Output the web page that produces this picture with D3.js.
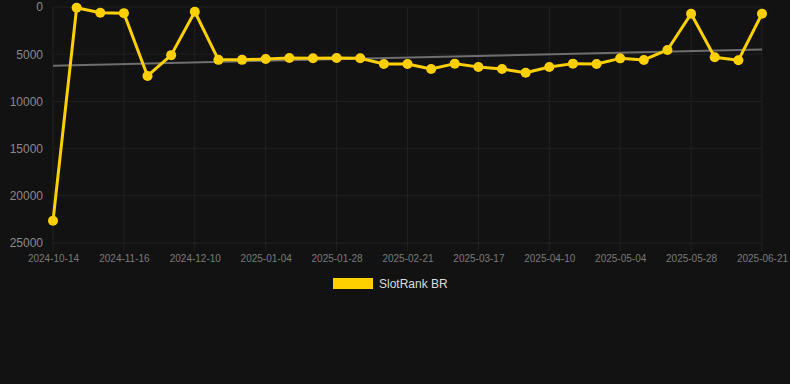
<!DOCTYPE html>
<html><head><meta charset="utf-8">
<script src="https://cdn.jsdelivr.net/npm/d3@7"></script>
<style>html,body{margin:0;padding:0;background:#121212;}svg{display:block;}</style>
</head><body>
<svg id="c" width="790" height="384"></svg>
<script>
const dates = ["2024-10-14","2024-10-25","2024-11-05","2024-11-16","2024-11-24","2024-12-02","2024-12-10","2024-12-18","2024-12-26","2025-01-04","2025-01-12","2025-01-20","2025-01-28","2025-02-05","2025-02-13","2025-02-21","2025-03-01","2025-03-09","2025-03-17","2025-03-25","2025-04-02","2025-04-10","2025-04-18","2025-04-26","2025-05-04","2025-05-12","2025-05-20","2025-05-28","2025-06-05","2025-06-13","2025-06-21"];
const ranks = [22650,80,600,650,7300,5100,500,5600,5600,5500,5400,5430,5400,5430,6040,6040,6570,6000,6360,6570,6960,6360,6000,6040,5440,5610,4550,710,5330,5650,710];
const yTicks = [0,5000,10000,15000,20000,25000];
const seriesName = "SlotRank BR";

const svg = d3.select("#c");
const W = 790, H = 384;
const m = {left:53, right:28, top:7, bottom:141};
const x = d3.scalePoint().domain(dates).range([m.left, W - m.right]);
const y = d3.scaleLinear().domain([0,25000]).range([m.top, H - m.bottom]);

const grid = "#212121";
// horizontal grid
svg.append("g").selectAll("line").data(yTicks).join("line")
  .attr("x1", m.left).attr("x2", W - m.right)
  .attr("y1", d => y(d)).attr("y2", d => y(d))
  .attr("stroke", grid).attr("stroke-width", 1);
// vertical grid (every third)
const xLabels = dates.filter((d,i) => i % 3 === 0);
svg.append("g").selectAll("line").data(xLabels).join("line")
  .attr("x1", d => x(d)).attr("x2", d => x(d))
  .attr("y1", m.top).attr("y2", y(25000) + 8)
  .attr("stroke", grid).attr("stroke-width", 1);

// y axis labels
const yAxis = d3.axisLeft(y).tickValues(yTicks).tickSize(0).tickPadding(10).tickFormat(d3.format("d"));
const gy = svg.append("g").attr("transform", `translate(${m.left},0)`).call(yAxis);
gy.select(".domain").remove();
gy.selectAll("text").attr("fill","#8a8a8a").style("font-family","Liberation Sans, Arial, sans-serif").style("font-size","12px");

// x axis labels
const xAxis = d3.axisBottom(x).tickValues(xLabels).tickSize(0).tickPadding(12);
const gx = svg.append("g").attr("transform", `translate(0,${y(25000)})`).call(xAxis);
gx.select(".domain").remove();
gx.selectAll("text").attr("fill","#7a7a7a").style("font-family","Liberation Sans, Arial, sans-serif").style("font-size","10px");

// trend line (least squares)
const n = ranks.length;
const xs = d3.range(n);
const mx = d3.mean(xs), my = d3.mean(ranks);
const slope = d3.sum(xs, i => (i-mx)*(ranks[i]-my)) / d3.sum(xs, i => (i-mx)*(i-mx));
const icpt = my - slope*mx;
svg.append("line")
  .attr("x1", x(dates[0])).attr("y1", y(icpt))
  .attr("x2", x(dates[n-1])).attr("y2", y(icpt + slope*(n-1)))
  .attr("stroke", "#6e6e6e").attr("stroke-width", 2);

const col = "#FFD000";
svg.append("path").datum(ranks)
  .attr("d", d3.line().x((d,i) => x(dates[i])).y(d => y(d)))
  .attr("fill","none").attr("stroke", col).attr("stroke-width", 3).attr("stroke-linejoin","round");
svg.append("g").selectAll("circle").data(ranks).join("circle")
  .attr("cx", (d,i) => x(dates[i])).attr("cy", d => y(d)).attr("r", 5).attr("fill", col);

// legend
const lg = svg.append("g");
lg.append("rect").attr("x", 333).attr("y", 278).attr("width", 40).attr("height", 11).attr("fill", col);
lg.append("text").attr("x", 379).attr("y", 288).text(seriesName)
  .attr("fill","#dddddd").style("font-family","Liberation Sans, Arial, sans-serif").style("font-size","12px");
</script>
</body></html>
